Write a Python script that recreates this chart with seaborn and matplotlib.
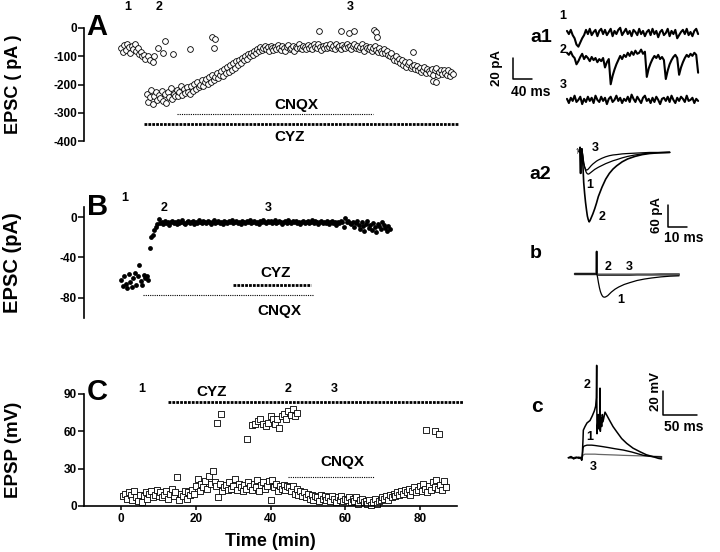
import numpy as np
import pandas as pd
import matplotlib
matplotlib.use("Agg")
import matplotlib.pyplot as plt
import seaborn as sns

# ---------------- Panel A: EPSC (pA), one sample every 0.4 min from t = 0
a_dt = 0.4
a_epsc = [
    -72, -85, -60, -78, -55, -68, -90, -62, -75, -58,
    -80, -70, -92, -85, -100, -95, -110,
    -232, -262, -245, -218, -270, -240, -225, -255, -238, -248,
    -222, -258, -235, -265, -228, -245, -212, -250, -232, -240,
    -220, -242, -228, -205, -238, -215, -230, -210, -225, -235,
    -205, -222, -198, -215, -190, -210, -200, -185, -205, -192,
    -180, -198, -172, -190, -165, -185, -175, -160, -178, -168,
    -152, -170, -145, -160, -138, -155, -130, -148, -125, -140,
    -118, -132, -112, -125, -105, -115, -98, -110, -92, -100,
    -88, -95, -80, -90, -75, -82, -68, -78, -72, -65,
    -75, -68, -80, -62, -72, -78, -66, -74, -60, -70,
    -78, -65, -72, -82, -68, -60, -75, -70, -64, -80,
    -66, -72, -58, -70, -76, -62, -68, -74, -60, -70,
    -64, -75, -58, -68, -72, -55, -66, -78, -62, -70,
    -60, -72, -66, -55, -70, -64, -76, -58, -68, -62,
    -74, -60, -66, -72, -55, -68, -62, -76, -64, -58,
    -70, -62, -75, -66, -58, -72, -80, -64, -70, -76,
    -68, -82, -72, -65, -78, -85, -70, -80, -88, -75,
    -90, -82, -95, -100, -88, -105, -112, -98, -118, -108,
    -125, -115, -130, -122, -138, -128, -120, -142, -135, -130,
    -145, -135, -150, -140, -155, -148, -138, -160, -145, -152,
    -158, -145, -165, -150, -142, -168, -155, -148, -162, -150,
    -158, -165, -150, -170, -155, -162,
]
# scattered single sweeps off the main band
a_extra_time = [7.2, 7.8, 8.4, 8.9, 9.8, 11.2, 11.6, 13.9, 18.4, 24.3, 25.2, 24.8,
                53.0, 59.0, 61.0, 62.4, 67.7, 68.4, 68.6, 78.2, 83.6, 84.3]
a_extra_epsc = [-100, -112, -122, -99, -72, -90, -47, -93, -75, -31, -40, -71,
                -10, -10, -17, -10, -7, -14, -33, -84, -188, -192]
a_cnqx = (15.0, 67.5)
a_cyz = (6.1, 90.6)

# ---------------- Panel B: EPSC (pA), one sample every 0.4 min from t = 0
b_dt = 0.4
b_epsc = [
    -62, -68, -58, -66, -70, -56, -64, -69, -60, -55,
    -67, -58, -47, -63, -67, -57, -60, -58, -62,
    -31, -20, -18, -13, -10, -7, -2,
    -6, -5, -7, -4, -6, -5, -8, -5, -4, -6,
    -5, -7, -4, -6, -5, -3, -6, -7, -5, -4,
    -6, -5, -4, -7, -5, -6, -3, -5, -6, -4,
    -5, -6, -4, -5, -7, -5, -3, -6, -5, -4,
    -6, -5, -7, -4, -5, -6, -4, -5, -3, -6,
    -5, -4, -6, -5, -7, -4, -5, -6, -4, -5,
    -3, -6, -5, -4, -6, -5, -7, -4, -5, -3,
    -5, -6, -4, -5, -4, -6, -5, -3, -6, -5,
    -4, -5, -7, -5, -4, -6, -3, -5, -6, -4,
    -5, -4, -6, -5, -7, -5, -4, -6, -5, -4,
    -6, -5, -3, -6, -4, -5, -7, -5, -4, -6,
    -5, -6, -4, -7, -5, -4, -6, -5, -8, -5,
    -6, -4, -5, -10, -1, -5, -4, -6, -7, -5,
    -10, -6, -4, -8, -12, -5, -9, -14, -7, -4,
    -11, -8, -13, -6, -10, -15, -7, -9, -12, -5,
    -8, -11, -14, -9, -12,
]
b_cyz = (30.0, 50.8)
b_cnqx = (5.8, 51.4)

# ---------------- Panel C: EPSP (mV), one sample every 0.5 min from t = 0.5
c_t0, c_dt = 0.5, 0.5
c_epsp = [
    8, 10, 6, 11, 9, 5, 12, 7, 4, 9,
    3, 8, 11, 6, 10, 12, 7, 9, 13, 8,
    11, 7, 9, 12, 6, 10, 14, 8, 11, 23,
    5, 10, 8, 12, 6, 11, 9, 13, 10, 16,
    22, 12, 18, 15, 20, 14, 24, 18, 28, 19,
    16, 7, 18, 12, 15, 17, 13, 19, 14, 16,
    22, 13, 18, 15, 12, 17, 14, 19, 16, 13,
    18, 15, 21, 12, 17, 19, 14, 16, 20, 5,
    21, 15, 18, 12, 16, 14, 17, 13, 16, 15,
    12, 16, 10, 14, 9, 12, 8, 11, 7, 10,
    6, 9, 5, 8, 7, 4, 9, 6, 8, 5,
    7, 4, 8, 6, 3, 7, 5, 8, 4, 6,
    5, 7, 3, 6, 4, 7, 2, 5, 6, 3,
    4, 2, 5, 1, 3, 6, 2, 4, 5, 7,
    6, 8, 5, 9, 7, 10, 8, 11, 9, 12,
    10, 13, 11, 14, 9, 12, 15, 11, 13, 16,
    12, 18, 14, 11, 16, 13, 19, 15, 21, 14,
    17, 13, 20, 15,
]
# suprathreshold responses (spiking sweeps)
c_spike_time = [25.7, 26.6, 33.8, 35.0, 35.8, 36.6, 37.2, 38.0, 38.8, 39.4, 40.0, 40.6, 41.2,
                41.8, 42.4, 43.0, 43.6, 44.2, 44.8, 45.4, 46.0, 46.6, 47.0, 81.7, 84.0, 85.3]
c_spike_epsp = [67, 74, 54, 65, 66, 68, 70, 66, 64, 67, 72, 70, 66,
                70, 63, 72, 74, 70, 76, 73, 78, 72, 75, 61, 60, 58]
c_cyz = (12.5, 91.6)
c_cnqx = (44.7, 67.7)

# ---------------- a1: spontaneous currents (pA), sampled every 4 ms
a1_dt = 4
a1_sweep1 = [2, -1, 3, -2, -5, -11, -13, -9, -5, -2,
             3, -1, 4, -2, 1, 3, -3, 2, 4, -1,
             3, -2, 1, 4, -3, 2, -1, 3, 5, -2,
             1, 4, -1, 2, -3, 3, 1, -2, 4, -1,
             2, -3, 1, 3, -2, 4, -1, 2, -4, 1,
             3, -2, 0, 4, -3, 2, -1, 3, -5, -2,
             1, 3, -1, 4, -2, 1, -3, 2, 4, -1]
a1_sweep2 = [5, 3, 6, 2, 0, -6, -3, 1, 4, -1,
             2, 0, -3, 1, -2, 0, -4, -1, -3, 0,
             -9, -4, -1, -25, -17, -11, -6, -2, 2, -1,
             3, 1, 5, 2, 6, 3, 7, 4, 5, 8,
             4, 6, -18, -10, -5, -1, 2, 0, 3, -1,
             1, -2, -20, -12, -6, -2, 1, 3, 0, -16,
             -9, -4, 0, 3, 1, 4, 2, 5, 3, -14]
a1_sweep3 = [1, -3, 2, -1, 4, -2, 0, 3, -4, 1,
             -2, 3, -1, 2, -3, 4, 0, -2, 3, -1,
             2, -4, 1, 3, -2, 0, 4, -1, 2, -3,
             1, -1, 3, -2, 5, 1, -2, 3, 0, -3,
             2, 4, -1, 1, -3, 2, -2, 3, 0, -4,
             1, 2, -1, 3, -2, 4, 0, -3, 2, -1,
             3, 1, -2, 4, -1, 0, 2, -3, 1, -1]

# ---------------- a2: evoked EPSCs (pA) vs time from stimulus (ms)
a2_time = [-0.5, 0, 0.3, 0.6, 1.0, 1.5, 2.0, 2.5, 3.0, 3.5,
           4.0, 4.5, 5.0, 5.5, 6, 7, 8, 9, 10, 12,
           14, 16, 18, 20, 23, 26, 30, 34, 38, 43, 49]
a2_sweep1 = [0, 12, -60, 6, 8, -10, -30, -42, -52, -58,
             -61, -62, -61, -59, -57, -53, -49, -46, -43, -38,
             -33, -29, -25, -22, -17, -13, -9, -6, -4, -3, -2]
a2_sweep2 = [0, 12, -60, 6, 8, -30, -85, -115, -140, -160,
             -178, -188, -194, -190, -184, -172, -158, -142, -124, -98,
             -76, -60, -48, -39, -28, -20, -13, -8, -5, -3, -2]
a2_sweep3 = [0, 12, -60, 6, 8, -12, -32, -42, -48, -51,
             -50, -48, -45, -42, -39, -34, -30, -26, -23, -18,
             -14, -11, -9, -8, -6, -5, -4, -3, -2, -2, -1]

# ---------------- b: evoked EPSCs (pA)
b_time = [-12, -0.1, 0, 0.1, 0.5, 1, 1.5, 2, 2.5, 3,
          3.5, 4, 4.5, 5, 6, 7, 8, 10, 12, 15,
          18, 22, 26, 30, 35, 40, 45]
b_sweep1 = [0, 0, 62, 0, -10, -25, -38, -48, -55, -60,
            -63, -64, -64, -63, -60, -55, -50, -42, -36, -29,
            -24, -18, -14, -11, -8, -6, -5]
b_sweep2 = [1, 1, 62, 0, -2, -3, -3, -3, -3, -3,
            -3, -3, -3, -3, -3, -3, -3, -3, -3, -3,
            -3, -2, -2, -2, -2, -2, -2]
b_sweep3 = [-1, -1, 62, 0, -1, -1, -1, -1, -1, -1,
            -1, -1, -1, -1, -1, -1, -1, -1, -1, -1,
            -1, -1, -1, -1, 0, 0, 0]

# ---------------- c: EPSPs (mV)
c_time = [-20, -15, -10, -5, -1, 0, 1, 2, 3, 5,
          8, 12, 15, 20, 25, 30, 40, 50, 62.5, 75,
          92.5, 105, 120]
c_sweep1 = [0, 0.5, -0.5, 0.5, 0, -2, 2, 8, 9.5, 10,
            10.5, 10.5, 10.5, 10.2, 9.8, 9.4, 8.5, 7.5, 6.4, 4.8,
            2, 1, 0.5]
c_sweep3 = [0, -0.5, 0.5, 0, 0.5, -2, 0.5, 2, 2.5, 3,
            3, 3, 3, 3, 2.8, 2.7, 2.5, 2.3, 2, 1.8,
            1.5, 1.3, 1]
c2_time = [-20, -16, -12, -8, -4, -1, 0, 1, 2, 2.5,
           5, 8, 12.5, 16, 19, 21, 22, 22.5, 23, 24,
           25, 26, 27, 27.5, 28, 29, 30, 31, 32, 35,
           37.5, 42, 47, 52.5, 60, 67.5, 77, 87.5, 97, 107.5,
           115, 120]
c_sweep2 = [0, 1, -1, 0.5, -0.5, 0, -2, 3, 15, 23,
            26, 29, 31, 35, 39, 43, 50, 77, 20, 28,
            36, 24, 30, 58, 22, 33, 26, 36, 30, 38,
            35.6, 31, 26, 21.7, 16, 12, 8, 5, 2.5, 0.8,
            -0.5, -1]

# ---------------------------------------------------------------- style
sns.set_theme(style="ticks")
plt.rcParams['font.family'] = ['Liberation Sans', 'DejaVu Sans']
plt.rcParams['font.weight'] = 'bold'
plt.rcParams['axes.unicode_minus'] = False
plt.rcParams['text.color'] = 'black'
plt.rcParams['axes.labelcolor'] = 'black'
plt.rcParams['xtick.color'] = 'black'
plt.rcParams['ytick.color'] = 'black'
plt.rcParams['axes.edgecolor'] = 'black'

W, H = 720, 552
fig = plt.figure(figsize=(W / 100, H / 100), dpi=100)


def px_axes(x0, y0, x1, y1):
    return fig.add_axes([x0 / W, 1 - y1 / H, (x1 - x0) / W, (y1 - y0) / H])


def style_panel(ax, yticks, ylim, ylabel, ysize, show_x=False):
    ax.set_xlim(-10, 90)
    ax.set_ylim(*ylim)
    ax.set_yticks(yticks)
    sns.despine(ax=ax, bottom=not show_x)
    ax.spines['left'].set_linewidth(1.2)
    ax.tick_params(axis='y', length=4, width=1.1, labelsize=8.5, pad=1)
    if show_x:
        ax.spines['bottom'].set_linewidth(1.2)
        ax.set_xticks([0, 20, 40, 60, 80])
        ax.tick_params(axis='x', length=3, width=1.1, labelsize=8.5, pad=2)
        ax.set_xlabel('Time (min)', fontsize=13, fontweight='bold', labelpad=6)
    else:
        ax.set_xticks([])
        ax.set_xlabel('')
    ax.set_ylabel(ylabel, fontsize=ysize, fontweight='bold')
    ax.yaxis.set_label_coords(-0.165, 0.5)
    ax.patch.set_alpha(0)


def note(ax, x, y, s, size=9, **kw):
    ax.text(x, y, s, fontsize=size, fontweight='bold', ha='center', va='center',
            clip_on=False, **kw)


def drug_bar(ax, span, y, thick):
    if thick:
        ax.plot(span, [y, y], color='black', lw=2.0, ls=(0, (1, 0.4)), clip_on=False)
    else:
        ax.plot(span, [y, y], color='black', lw=0.8, ls=(0, (1, 1)), clip_on=False)


# ---------------------------------------------------------------- A
axA = px_axes(84, 28, 457, 141)
a_minutes = np.arange(len(a_epsc)) * a_dt
dfA = pd.DataFrame({'time': np.concatenate([a_minutes, a_extra_time]),
                    'epsc': np.concatenate([a_epsc, a_extra_epsc])})
sns.scatterplot(data=dfA, x='time', y='epsc', ax=axA, marker='o', s=17,
                color='white', edgecolor='black', linewidth=0.6, legend=False, clip_on=False)
style_panel(axA, [0, -100, -200, -300, -400], (-400, 0), 'EPSC ( pA )', 13)
drug_bar(axA, a_cnqx, -306, False)
drug_bar(axA, a_cyz, -340, True)
note(axA, 47, -273, 'CNQX', 11)
note(axA, 45, -385, 'CYZ', 11)
for x, s in [(1.6, '1'), (10.2, '2'), (61.4, '3')]:
    note(axA, x, 73, s)
axA.text(0.035, 1.01, 'A', transform=axA.transAxes, fontsize=21, fontweight='bold',
         ha='center', va='center')

# ---------------------------------------------------------------- B
axB = px_axes(84, 207, 457, 318)
b_minutes = np.arange(len(b_epsc)) * b_dt
dfB = pd.DataFrame({'time': b_minutes, 'epsc': b_epsc})
sns.scatterplot(data=dfB, x='time', y='epsc', ax=axB, marker='o', s=12,
                color='black', linewidth=0, legend=False)
style_panel(axB, [0, -40, -80], (-100, 10), 'EPSC (pA)', 14.5)
drug_bar(axB, b_cyz, -67.5, True)
drug_bar(axB, b_cnqx, -77, False)
note(axB, 41.5, -55, 'CYZ', 11)
note(axB, 42.4, -92.6, 'CNQX', 11)
for x, y, s in [(0.8, 19, '1'), (11.5, 9, '2'), (39.3, 9, '3')]:
    note(axB, x, y, s)
axB.text(0.037, 1.0, 'B', transform=axB.transAxes, fontsize=21, fontweight='bold',
         ha='center', va='center')

# ---------------------------------------------------------------- C
axC = px_axes(84, 394, 457, 506)
c_minutes = c_t0 + np.arange(len(c_epsp)) * c_dt
dfC = pd.DataFrame({'time': np.concatenate([c_minutes, c_spike_time]),
                    'epsp': np.concatenate([c_epsp, c_spike_epsp])})
sns.scatterplot(data=dfC, x='time', y='epsp', ax=axC, marker='s', s=13,
                color='white', edgecolor='black', linewidth=0.6, legend=False, clip_on=False)
style_panel(axC, [0, 30, 60, 90], (0, 90), 'EPSP (mV)', 13.5, show_x=True)
drug_bar(axC, c_cyz, 83.5, True)
drug_bar(axC, c_cnqx, 23.6, False)
note(axC, 24.1, 91.8, 'CYZ', 11)
note(axC, 59.4, 35.7, 'CNQX', 11)
for x, s in [(5.6, '1'), (44.7, '2'), (57.2, '3')]:
    note(axC, x, 94, s)
axC.text(0.035, 1.02, 'C', transform=axC.transAxes, fontsize=21, fontweight='bold',
         ha='center', va='center')


def trace(ax, t, v, lw=1.0, color='black'):
    sns.lineplot(x=np.asarray(t, float), y=np.asarray(v, float), ax=ax, color=color,
                 lw=lw, estimator=None, sort=False)


# ---------------------------------------------------------------- a1
ax1 = px_axes(490, 5, 710, 115)
ax1.set_xlim(-162, 301)
ax1.set_ylim(-104.8, 0)
t1 = np.arange(len(a1_sweep1)) * a1_dt
for offset, sweep in [(-26.7, a1_sweep1), (-50.5, a1_sweep2), (-90.4, a1_sweep3)]:
    trace(ax1, t1, np.array(sweep) + offset, lw=1.5)
ax1.plot([-113.7, -113.7, -73.7], [-50.5, -70.5, -70.5], color='black', lw=1.1)
note(ax1, -147, -60, '20 pA', 9.5, rotation=90)
note(ax1, -76, -83, '40 ms', 10)
note(ax1, -55, -30.5, 'a1', 14)
for y, s in [(-10.5, '1'), (-42.8, '2'), (-76.2, '3')]:
    note(ax1, -8.4, y, s)
ax1.axis('off')

# ---------------------------------------------------------------- a2
ax2 = px_axes(520, 140, 710, 245)
ax2.set_xlim(-32.8, 71.0)
ax2.set_ylim(-258, 32.4)
trace(ax2, a2_time, a2_sweep3, lw=0.9)
trace(ax2, a2_time, a2_sweep1, lw=0.9)
trace(ax2, a2_time, a2_sweep2, lw=1.2)
ax2.plot([48.2, 48.2, 58.2], [-147.4, -207.4, -207.4], color='black', lw=1.1)
note(ax2, 41.9, -175, '60 pA', 9.5, rotation=90)
note(ax2, 56.4, -239, '10 ms', 10)
note(ax2, -21.8, -64, 'a2', 14)
note(ax2, -1.8, 2, '↑', 7)
for x, y, s in [(8.2, 9.4, '3'), (5.5, -92, '1'), (12.2, -181, '2')]:
    note(ax2, x, y, s)
ax2.axis('off')

# ---------------------------------------------------------------- b
axb = px_axes(520, 245, 710, 320)
axb.set_xlim(-41.9, 61.9)
axb.set_ylim(-127.2, 80.2)
trace(axb, b_time, b_sweep2, lw=1.3, color='#333333')
trace(axb, b_time, b_sweep3, lw=1.3, color='#555555')
trace(axb, b_time, b_sweep1, lw=0.9)
note(axb, -33.2, 57, 'b', 14)
for x, y, s in [(6.3, 20, '2'), (17.6, 20, '3'), (13.3, -72, '1')]:
    note(axb, x, y, s)
axb.axis('off')

# ---------------------------------------------------------------- c
axc = px_axes(525, 355, 710, 485)
axc.set_xlim(-85, 192.5)
axc.set_ylim(-22.7, 85.6)
trace(axc, c_time, c_sweep3, lw=0.9, color='#666666')
trace(axc, c_time, c_sweep1, lw=1.0)
trace(axc, c2_time, c_sweep2, lw=1.1)
axc.plot([122.4, 122.4, 172.4], [55.6, 35.6, 35.6], color='black', lw=1.1)
note(axc, 112, 55, '20 mV', 9.5, rotation=90)
note(axc, 152.4, 25.8, '50 ms', 10)
note(axc, -67.5, 42.5, 'c', 15)
for x, y, s in [(7.5, 60.6, '2'), (12.5, 17.5, '1'), (17.4, -7.7, '3')]:
    note(axc, x, y, s)
axc.axis('off')

fig.savefig('out.png', dpi=100, facecolor='white')
